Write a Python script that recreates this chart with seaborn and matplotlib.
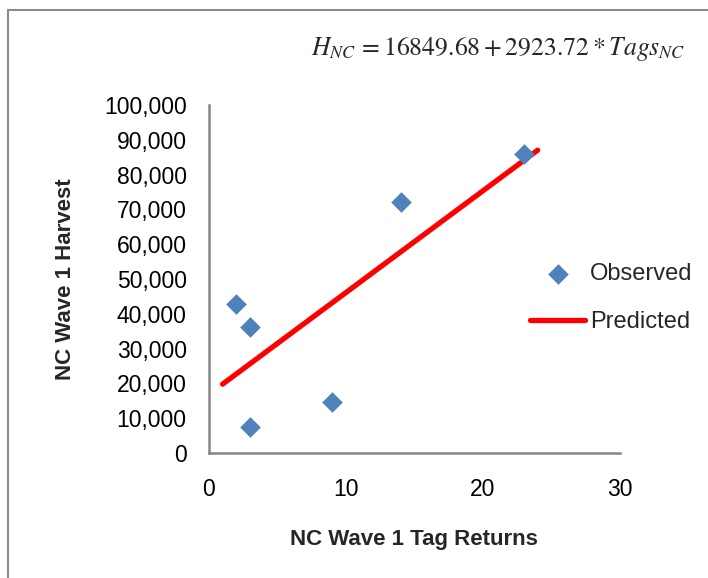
import matplotlib
matplotlib.use("Agg")
import matplotlib.pyplot as plt
import seaborn as sns
import pandas as pd
from matplotlib.patches import Rectangle

# observed tag returns vs harvest
obs_tags = [2, 3, 3, 9, 14, 23]
obs_harvest = [42800, 36300, 7600, 14700, 72000, 86000]

# predicted line from the regression
pred_tags = [1, 2, 3, 9, 14, 23, 24]
pred_harvest = [19773, 22697, 25621, 43163, 57782, 84095, 87019]

x_ticks = [0, 10, 20, 30]
y_ticks = [0, 10000, 20000, 30000, 40000, 50000, 60000, 70000, 80000, 90000, 100000]

obs = pd.DataFrame({'tags': obs_tags, 'harvest': obs_harvest})
pred = pd.DataFrame({'tags': pred_tags, 'harvest': pred_harvest})

sns.set_style('white')
plt.rcParams['font.family'] = ['Liberation Sans', 'DejaVu Sans']
plt.rcParams['mathtext.fontset'] = 'stix'

fig = plt.figure(figsize=(7.08, 5.78), dpi=100)
ax = fig.add_axes([0.295, 0.2163, 0.5805, 0.602])

sns.scatterplot(data=obs, x='tags', y='harvest', marker='D', s=110,
                color='#4F81BD', linewidth=0, label='Observed', ax=ax, zorder=3)
sns.lineplot(data=pred, x='tags', y='harvest', color='#FF0000', linewidth=3.8,
             label='Predicted', ax=ax, solid_capstyle='round', zorder=2)

ax.set_xlim(0, 30)
ax.set_ylim(0, 100000)
ax.set_xticks(x_ticks)
ax.set_yticks(y_ticks)
ax.set_yticklabels([f'{v:,}' for v in y_ticks])
ax.tick_params(axis='both', direction='out', length=7, width=1.8, color='#868686',
               labelsize=16.5, colors='#000000')
ax.tick_params(axis='y', pad=9)
ax.tick_params(axis='x', pad=11)
for s in ['top', 'right']:
    ax.spines[s].set_visible(False)
for s in ['left', 'bottom']:
    ax.spines[s].set_color('#868686')
    ax.spines[s].set_linewidth(1.8)

ax.set_xlabel('NC Wave 1 Tag Returns', fontsize=16, fontweight='bold', labelpad=20)
ax.set_ylabel('NC Wave 1 Harvest', fontsize=16, fontweight='bold', labelpad=20)

ax.legend(loc='center left', bbox_to_anchor=(0.781, 0.445), frameon=False,
          fontsize=17, borderpad=0, borderaxespad=0, handlelength=2.35,
          handletextpad=0.2, labelspacing=1.12)

fig.text(0.703, 0.915, r'$H_{NC}\, = 16849.68 + 2923.72 * Tags_{NC}$',
         fontsize=18.5, ha='center', va='center')

fig.add_artist(Rectangle((8 / 708, -0.1), 1.2, 1 - 10 / 578 + 0.1,
                         transform=fig.transFigure, fill=False,
                         edgecolor='#8c8c8c', linewidth=1.5))

fig.savefig('out.png', dpi=100)
